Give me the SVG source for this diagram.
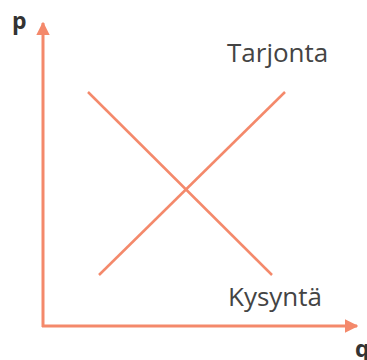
<svg xmlns="http://www.w3.org/2000/svg" width="367" height="360" viewBox="0 0 367 360">
<defs>
<style>
.ax{stroke:#f4896b;stroke-width:3;fill:none}
.ln{stroke:#f4896b;stroke-width:2.5;fill:none}
.lbl{font-family:"Open Sans",sans-serif;font-size:26px;fill:#444}
.axl{font-family:"Open Sans",sans-serif;font-size:23px;font-weight:bold;fill:#333}
</style>
<marker id="ah" viewBox="0 0 10 10" refX="9" refY="5" markerWidth="4.5" markerHeight="4.5" orient="auto" markerUnits="strokeWidth">
<path d="M0,0 L10,5 L0,10 z" fill="#f4896b"/>
</marker>
</defs>
<rect width="367" height="360" fill="#fff"/>
<g id="connectors">
<line class="ax" x1="43" y1="327" x2="43" y2="23" marker-end="url(#ah)"/>
<line class="ax" x1="42" y1="326" x2="357" y2="326" marker-end="url(#ah)"/>
<line id="supply" class="ln" x1="99" y1="275" x2="285" y2="92"/>
<line id="demand" class="ln" x1="88" y1="92" x2="272" y2="275"/>
</g>
<g id="labels">
<text class="axl" x="12" y="29">p</text>
<text class="axl" x="355" y="357">q</text>
<text id="tarjonta" class="lbl" x="227" y="62">Tarjonta</text>
<text id="kysynta" class="lbl" x="228" y="306">Kysyntä</text>
</g>
</svg>
